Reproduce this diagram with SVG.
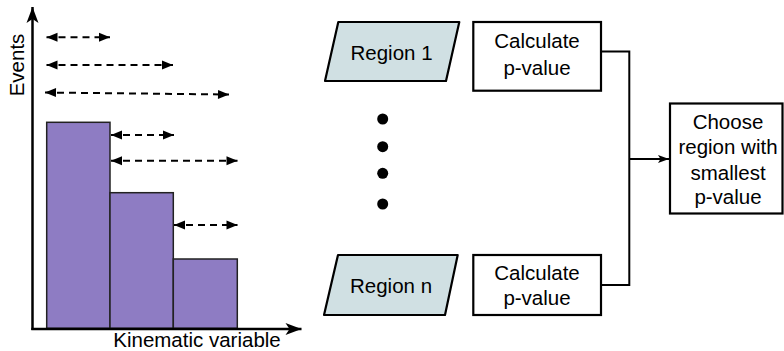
<svg xmlns="http://www.w3.org/2000/svg" width="784" height="351" viewBox="0 0 784 351">
<style>
text{font-family:"Liberation Sans",Arial,sans-serif;font-size:20.5px;fill:#000;text-anchor:middle}
.bar{fill:#8e7cc3;stroke:#222;stroke-width:1.5}
.dash{stroke:#000;stroke-width:2;stroke-dasharray:7 5;fill:none;marker-start:url(#ah);marker-end:url(#ah)}
.axis{stroke:#000;stroke-width:2.5;fill:none;marker-end:url(#axh)}
.para{fill:#d0e0e3;stroke:#000;stroke-width:2.2;stroke-linejoin:round}
.box{fill:#fff;stroke:#000;stroke-width:2.2}
.conn{stroke:#000;stroke-width:2;fill:none}
</style>
<defs>
<marker id="ah" markerUnits="userSpaceOnUse" markerWidth="12" markerHeight="10" refX="11" refY="4.5" orient="auto-start-reverse" overflow="visible">
<path d="M0,0 L11,4.5 L0,9 z" fill="#000"/>
</marker>
<marker id="axh" markerUnits="userSpaceOnUse" markerWidth="17" markerHeight="13" refX="16" refY="6" orient="auto" overflow="visible">
<path d="M0,0 L16,6 L0,12 L4,6 z" fill="#000"/>
</marker>
<marker id="ch" markerUnits="userSpaceOnUse" markerWidth="12" markerHeight="10" refX="11" refY="4" orient="auto" overflow="visible">
<path d="M0,0 L11,4 L0,8 L2.5,4 z" fill="#000"/>
</marker>
</defs>

<g id="histogram">
<rect class="bar" x="46.7" y="122.3" width="63.3" height="206"/>
<rect class="bar" x="110" y="192.7" width="63.3" height="135.6"/>
<rect class="bar" x="173.3" y="259" width="64" height="69.3"/>
<line class="axis" x1="32.5" y1="330" x2="32.5" y2="7"/>
<line class="axis" x1="31.3" y1="329" x2="301.5" y2="329"/>
<text transform="translate(24,65) rotate(-90)">Events</text>
<text x="197" y="347">Kinematic variable</text>
</g>

<g id="ranges">
<line class="dash" x1="46.5" y1="37.3" x2="110" y2="37.3"/>
<line class="dash" x1="46.5" y1="65" x2="173" y2="65"/>
<line class="dash" x1="45" y1="92.5" x2="229" y2="94.5"/>
<line class="dash" x1="111" y1="135" x2="174" y2="135"/>
<line class="dash" x1="111" y1="160.7" x2="237.5" y2="160.7"/>
<line class="dash" x1="174" y1="225" x2="237.5" y2="225"/>
</g>

<g id="region1">
<polygon class="para" points="338.3,22 459.3,22 446,81 325,81"/>
<text x="391.5" y="60">Region 1</text>
</g>
<g id="regionn">
<polygon class="para" points="338,255 457.7,255 445,315 324,315"/>
<text x="391" y="293">Region n</text>
</g>
<g id="calc1">
<rect class="box" x="473.3" y="22" width="127.7" height="68.7"/>
<text x="537" y="48.3">Calculate</text>
<text x="537" y="74.5">p-value</text>
</g>
<g id="calcn">
<rect class="box" x="473.3" y="255" width="127.7" height="60"/>
<text x="537" y="280">Calculate</text>
<text x="537" y="305">p-value</text>
</g>
<g id="ellipsis">
<circle cx="382.7" cy="119" r="5.5"/>
<circle cx="382.7" cy="146.7" r="5.5"/>
<circle cx="382.7" cy="173.3" r="5.5"/>
<circle cx="382.7" cy="204" r="5.5"/>
</g>
<g id="choose">
<rect class="box" x="670" y="103.5" width="112.5" height="110"/>
<text x="728" y="129.3">Choose</text>
<text x="728" y="154">region with</text>
<text x="728" y="179.5">smallest</text>
<text x="728" y="203.5">p-value</text>
</g>

<g id="connectors">
<polyline class="conn" points="601,51.5 629.3,51.5 629.3,285 601,285"/>
<line class="conn" x1="629.3" y1="159" x2="669" y2="159" marker-end="url(#ch)"/>
</g>
</svg>
